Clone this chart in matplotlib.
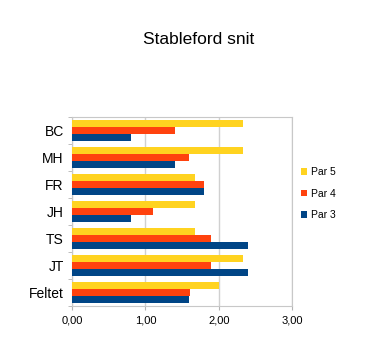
import numpy as np
import matplotlib.pyplot as plt

plt.rcParams['font.family'] = ['Liberation Sans', 'DejaVu Sans']

# data
players = ['BC', 'MH', 'FR', 'JH', 'TS', 'JT', 'Feltet']
par5 = [2.33, 2.33, 1.67, 1.67, 1.67, 2.33, 2.00]
par4 = [1.40, 1.59, 1.80, 1.10, 1.90, 1.90, 1.61]
par3 = [0.80, 1.40, 1.80, 0.80, 2.40, 2.40, 1.60]
xticks = [0, 1, 2, 3]
xlabels = ['0,00', '1,00', '2,00', '3,00']

fig = plt.figure(figsize=(3.66, 3.47), dpi=100)
ax = fig.add_axes([0.197, 0.118, 0.601, 0.545])

y = np.arange(len(players))[::-1].astype(float)
h = 0.25
ax.barh(y + h, par5, height=h, color='#FFD320', label='Par 5', zorder=3)
ax.barh(y, par4, height=h, color='#FF420E', label='Par 4', zorder=3)
ax.barh(y - h, par3, height=h, color='#004586', label='Par 3', zorder=3)

ax.set_xlim(0, 3)
ax.set_ylim(-0.5, len(players) - 0.5)
ax.set_xticks(xticks)
ax.set_xticklabels(xlabels, fontsize=8)
ax.set_yticks(y)
ax.set_yticklabels(players, fontsize=10)
ax.set_yticks(np.arange(len(players) + 1) - 0.5, minor=True)
ax.tick_params(axis='y', which='major', length=0, pad=6)
ax.tick_params(axis='y', which='minor', length=3, color='#b3b3b3')
ax.tick_params(axis='x', length=3, color='#b3b3b3')
ax.grid(axis='x', color='#d0d0d0', linewidth=1, zorder=0)
for s in ax.spines.values():
    s.set_color('#c8c8c8')

fig.text(199 / 366, 1 - 40 / 347, 'Stableford snit', fontsize=12.5, ha='center', va='center')

handles, labels = ax.get_legend_handles_labels()
fig.legend(handles, labels, loc='upper left', bbox_to_anchor=(297 / 366, 1 - 163 / 347),
           frameon=False, fontsize=7.5, handlelength=0.6, handleheight=0.6,
           handletextpad=0.3, labelspacing=1.1, borderaxespad=0)

fig.savefig('out.png', dpi=100)
